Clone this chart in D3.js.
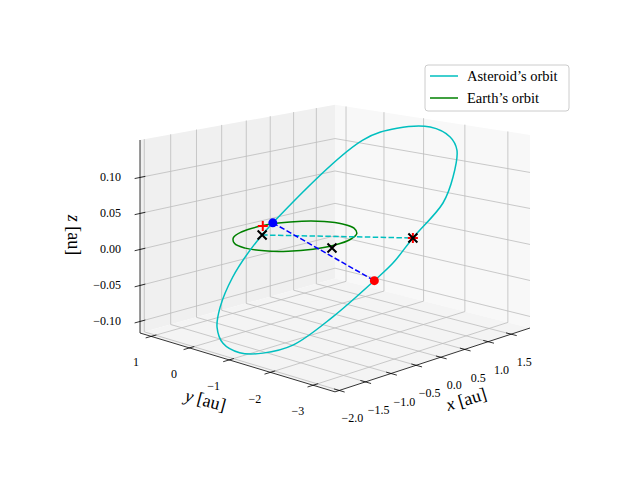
<!DOCTYPE html>
<html>
<head>
<meta charset="utf-8">
<script src="https://cdn.jsdelivr.net/npm/d3@7"></script>
<style>
  body { margin: 0; background: #fff; }
  text { font-family: "Liberation Serif", "DejaVu Serif", serif; fill: #000; }
</style>
</head>
<body>
<svg id="chart" width="640" height="480"></svg>
<script>
// axis limits and ticks
const xLim = [-2.08, 1.92];
const yLim = [-3.5, 1.3];
const zLim = [-0.116, 0.152];
const xTicks = [-2.0, -1.5, -1.0, -0.5, 0.0, 0.5, 1.0, 1.5];
const yTicks = [1, 0, -1, -2, -3];
const zTicks = [-0.10, -0.05, 0.00, 0.05, 0.10];

// asteroid orbit, [x, y, z] in au
const asteroidOrbit = [
  [2.38,-0.67,0.130],[2.46,-1.08,0.118],[2.38,-1.33,0.102],[2.06,-1.57,0.070],
  [1.69,-1.72,0.040],[1.07,-1.67,0],[0.65,-1.66,-0.028],
  [0.31,-1.60,-0.047],[-0.39,-1.42,-0.086],[-0.99,-1.18,-0.116],[-1.32,-0.86,-0.125],
  [-1.53,-0.55,-0.125],[-1.60,-0.22,-0.116],[-1.52,0.04,-0.100],[-1.32,0.23,-0.079],
  [-0.95,0.40,-0.047],[-0.55,0.47,-0.017],[-0.09,0.47,0.014],
  [1.59,0.17,0.113],[2.05,-0.19,0.128]
];

// earth orbit, [x, y, z] in au
const earthOrbit = [
  [1,0,0],[0.924,0.383,0],[0.707,0.707,0],[0.383,0.924,0],[0,1,0],
  [-0.383,0.924,0],[-0.707,0.707,0],[-0.924,0.383,0],[-1,0,0],
  [-0.924,-0.383,0],[-0.707,-0.707,0],[-0.383,-0.924,0],[0,-1,0],
  [0.383,-0.924,0],[0.707,-0.707,0],[0.924,-0.383,0]
];

const nodes = [[-0.30, 0.48, 0], [1.07, -1.67, 0]];
const crossPoints = [[-0.30, 0.48, 0], [1.07, -1.67, 0], [-0.15, -1.11, 0]];
const plusPoints = [[0.09, 0.97, 0], [1.07, -1.67, 0]];
const bluePoint = [-0.09, 0.47, 0.014];
const redPoint = [0.31, -1.60, -0.047];

const svg = d3.select("#chart");

const xs = d3.scaleLinear().domain(xLim).range([-0.5, 0.5]);
const ys = d3.scaleLinear().domain(yLim).range([-0.5, 0.5]);
const zs = d3.scaleLinear().domain(zLim).range([-0.5, 0.5]);

const center = [335, 234];
const ex = [195, -49.5], ey = [-195, -44.5], ez = [0, -193];

function proj([x, y, z]) {
  const u = xs(x), v = ys(y), w = zs(z);
  const s = 1 - 0.1 * (u + v);
  return [
    center[0] + s * (u * ex[0] + v * ey[0] + w * ez[0]),
    center[1] + s * (u * ex[1] + v * ey[1] + w * ez[1])
  ];
}

const [x0, x1] = xLim, [y0, y1] = yLim, [z0, z1] = zLim;

// panes
const panes = [
  { pts: [[x0,y1,z0],[x1,y1,z0],[x1,y1,z1],[x0,y1,z1]], fill: "#f0f0f0" },
  { pts: [[x1,y0,z0],[x1,y1,z0],[x1,y1,z1],[x1,y0,z1]], fill: "#f8f8f8" },
  { pts: [[x0,y0,z0],[x1,y0,z0],[x1,y1,z0],[x0,y1,z0]], fill: "#f4f4f4" }
];
svg.append("g").selectAll("path")
  .data(panes)
  .join("path")
  .attr("d", d => "M" + d.pts.map(proj).join("L") + "Z")
  .attr("fill", d => d.fill);

// grid
const grid = [];
xTicks.forEach(t => {
  grid.push([[t,y0,z0],[t,y1,z0]]);
  grid.push([[t,y1,z0],[t,y1,z1]]);
});
yTicks.forEach(t => {
  grid.push([[x0,t,z0],[x1,t,z0]]);
  grid.push([[x1,t,z0],[x1,t,z1]]);
});
zTicks.forEach(t => {
  grid.push([[x0,y1,t],[x1,y1,t]]);
  grid.push([[x1,y0,t],[x1,y1,t]]);
});
svg.append("g").selectAll("line")
  .data(grid)
  .join("line")
  .attr("x1", d => proj(d[0])[0]).attr("y1", d => proj(d[0])[1])
  .attr("x2", d => proj(d[1])[0]).attr("y2", d => proj(d[1])[1])
  .attr("stroke", "#bdbdbd")
  .attr("stroke-width", 0.8);

// axis lines
const axes = [
  [[x0,y0,z0],[x1,y0,z0]],
  [[x0,y0,z0],[x0,y1,z0]],
  [[x0,y1,z0],[x0,y1,z1]]
];
svg.append("g").selectAll("line")
  .data(axes)
  .join("line")
  .attr("x1", d => proj(d[0])[0]).attr("y1", d => proj(d[0])[1])
  .attr("x2", d => proj(d[1])[0]).attr("y2", d => proj(d[1])[1])
  .attr("stroke", "#000")
  .attr("stroke-width", 0.8);

// ticks
const dy = (y1 - y0) * 0.025, dx = (x1 - x0) * 0.025;
const tickSegs = [
  ...xTicks.map(t => [[t,y0 + dy,z0],[t,y0 - dy,z0]]),
  ...yTicks.map(t => [[x0 + dx,t,z0],[x0 - dx,t,z0]]),
  ...zTicks.map(t => [[x0 + dx,y1,t],[x0 - dx,y1,t]])
];
svg.append("g").selectAll("line")
  .data(tickSegs)
  .join("line")
  .attr("x1", d => proj(d[0])[0]).attr("y1", d => proj(d[0])[1])
  .attr("x2", d => proj(d[1])[0]).attr("y2", d => proj(d[1])[1])
  .attr("stroke", "#000")
  .attr("stroke-width", 0.8);

const fmtMinus = s => s.replace("-", "\u2212");

svg.append("g").selectAll("text")
  .data(xTicks)
  .join("text")
  .attr("x", d => proj([d,y0,z0])[0] + 13)
  .attr("y", d => proj([d,y0,z0])[1] + 32)
  .attr("text-anchor", "middle")
  .attr("font-size", 12)
  .text(d => fmtMinus(d.toFixed(1)));

svg.append("g").selectAll("text")
  .data(yTicks)
  .join("text")
  .attr("x", d => proj([x0,d,z0])[0] - 15)
  .attr("y", d => proj([x0,d,z0])[1] + 30)
  .attr("text-anchor", "middle")
  .attr("font-size", 12)
  .text(d => fmtMinus(String(d)));

svg.append("g").selectAll("text")
  .data(zTicks)
  .join("text")
  .attr("x", 121)
  .attr("y", d => proj([x0,y1,d])[1] + 4)
  .attr("text-anchor", "end")
  .attr("font-size", 12)
  .text(d => fmtMinus(d.toFixed(2)));

// axis labels
function axisLabel(x, y, rot, letter) {
  const t = svg.append("text")
    .attr("transform", `translate(${x},${y}) rotate(${rot})`)
    .attr("text-anchor", "middle")
    .attr("font-size", 18);
  t.append("tspan").attr("font-style", "italic").text(letter);
  t.append("tspan").text(" [au]");
}
axisLabel(468, 405, -17, "x");
axisLabel(204, 406, 15, "y");
axisLabel(68, 235, 90, "z");

// orbits
const line = d3.line().curve(d3.curveCatmullRomClosed);
svg.append("path")
  .attr("d", line(earthOrbit.map(proj)))
  .attr("fill", "none").attr("stroke", "#008000").attr("stroke-width", 1.5);
svg.append("path")
  .attr("d", line(asteroidOrbit.map(proj)))
  .attr("fill", "none").attr("stroke", "#00bfbf").attr("stroke-width", 1.5);

// dashed lines
svg.append("line")
  .attr("x1", proj(nodes[0])[0]).attr("y1", proj(nodes[0])[1])
  .attr("x2", proj(nodes[1])[0]).attr("y2", proj(nodes[1])[1])
  .attr("stroke", "#00bfbf").attr("stroke-width", 1.5)
  .attr("stroke-dasharray", "5.5,2.4");
svg.append("line")
  .attr("x1", proj(bluePoint)[0]).attr("y1", proj(bluePoint)[1])
  .attr("x2", proj(redPoint)[0]).attr("y2", proj(redPoint)[1])
  .attr("stroke", "#0000ff").attr("stroke-width", 1.5)
  .attr("stroke-dasharray", "5.5,2.4");

// markers
const m = svg.append("g");
plusPoints.forEach(p => {
  const [px, py] = proj(p);
  m.append("path")
    .attr("d", `M${px - 5},${py}H${px + 5}M${px},${py - 5}V${py + 5}`)
    .attr("stroke", "#ff0000").attr("stroke-width", 2);
});
crossPoints.forEach(p => {
  const [px, py] = proj(p);
  m.append("path")
    .attr("d", `M${px - 4.5},${py - 4.5}L${px + 4.5},${py + 4.5}M${px - 4.5},${py + 4.5}L${px + 4.5},${py - 4.5}`)
    .attr("stroke", "#000").attr("stroke-width", 2);
});
m.append("circle").attr("cx", proj(bluePoint)[0]).attr("cy", proj(bluePoint)[1])
  .attr("r", 4.5).attr("fill", "#0000ff");
m.append("circle").attr("cx", proj(redPoint)[0]).attr("cy", proj(redPoint)[1])
  .attr("r", 4.5).attr("fill", "#ff0000");

// legend
const legendItems = ["Asteroid\u2019s orbit", "Earth\u2019s orbit"];
const legendColors = ["#00bfbf", "#008000"];
const lg = svg.append("g").attr("transform", "translate(425,65)");
lg.append("rect").attr("width", 144).attr("height", 46).attr("rx", 3)
  .attr("fill", "#fff").attr("fill-opacity", 0.8)
  .attr("stroke", "#cccccc");
legendItems.forEach((name, i) => {
  lg.append("line").attr("x1", 5).attr("x2", 33)
    .attr("y1", 11 + i * 22).attr("y2", 11 + i * 22)
    .attr("stroke", legendColors[i]).attr("stroke-width", 1.5);
  lg.append("text").attr("x", 42).attr("y", 15.5 + i * 22)
    .attr("font-size", 14.5).text(name);
});
</script>
</body>
</html>
